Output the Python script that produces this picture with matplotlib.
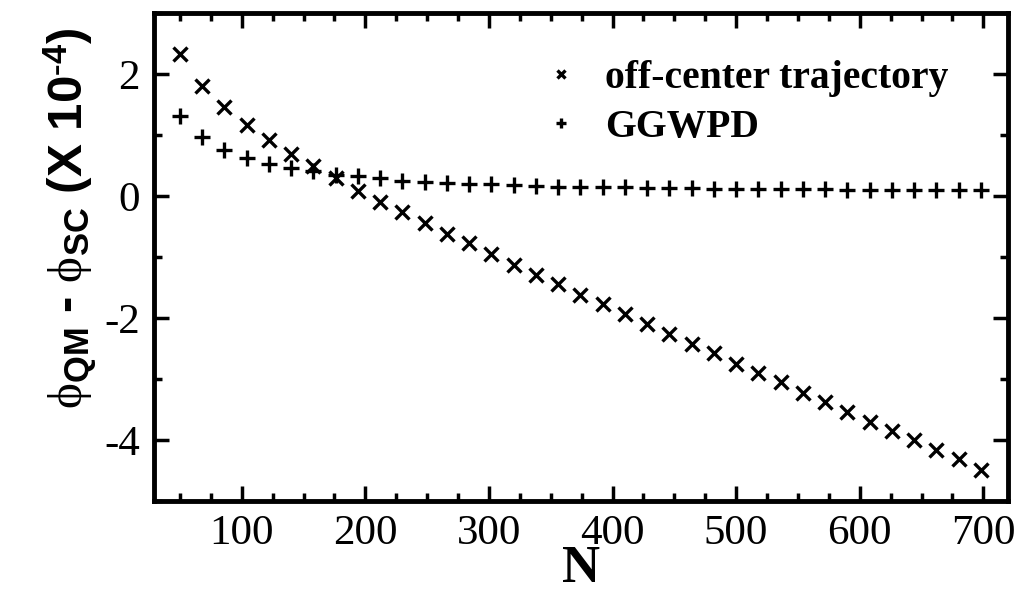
import matplotlib
matplotlib.use("Agg")
import matplotlib.pyplot as plt
import numpy as np

# system size N and phase differences (units of 1e-4)
N = [50, 68, 86, 104, 122, 140, 158, 176, 194, 212, 230, 248, 266, 284, 302,
     320, 338, 356, 374, 392, 410, 428, 446, 464, 482, 500, 518, 536, 554,
     572, 590, 608, 626, 644, 662, 680, 698]

off_center = [2.33, 1.81, 1.45, 1.16, 0.92, 0.69, 0.49, 0.30, 0.08, -0.10,
              -0.27, -0.44, -0.62, -0.78, -0.96, -1.13, -1.29, -1.45, -1.62,
              -1.78, -1.94, -2.10, -2.27, -2.43, -2.58, -2.75, -2.90, -3.06,
              -3.23, -3.38, -3.54, -3.70, -3.86, -4.01, -4.17, -4.32, -4.49]

ggwpd = [1.31, 0.96, 0.75, 0.62, 0.52, 0.45, 0.41, 0.34, 0.32, 0.29, 0.25,
         0.23, 0.21, 0.20, 0.19, 0.18, 0.16, 0.15, 0.15, 0.14, 0.14, 0.13,
         0.13, 0.13, 0.12, 0.12, 0.12, 0.11, 0.11, 0.11, 0.10, 0.10, 0.10,
         0.10, 0.09, 0.09, 0.09]

xticks = [100, 200, 300, 400, 500, 600, 700]
yticks = [-4, -2, 0, 2]

plt.rcParams['axes.unicode_minus'] = False
plt.rcParams['mathtext.fontset'] = 'custom'
plt.rcParams['mathtext.rm'] = 'Liberation Serif'
plt.rcParams['mathtext.it'] = 'Liberation Serif'
plt.rcParams['mathtext.bf'] = 'Liberation Sans:bold'

fig = plt.figure(figsize=(10.21, 6.03), dpi=100)
ax = fig.add_axes([0.1508, 0.1695, 0.8365, 0.809])

ax.plot(N, off_center, linestyle='none', marker='x', color='black',
        markersize=9.5, markeredgewidth=2.4, label='off-center trajectory')
ax.plot(N, ggwpd, linestyle='none', marker='+', color='black',
        markersize=12, markeredgewidth=2.4, label='GGWPD')

ax.set_xlim(29, 720)
ax.set_ylim(-5, 3)
ax.set_xticks(xticks)
ax.set_yticks(yticks)
ax.set_xticks(np.arange(50, 720, 25), minor=True)
ax.set_yticks([-5, -3, -1, 1, 3], minor=True)

for s in ax.spines.values():
    s.set_linewidth(3.5)
ax.tick_params(which='both', direction='in', top=True, right=True, width=2.5)
ax.tick_params(which='major', length=11, pad=10)
ax.tick_params(which='minor', length=6)
for lab in ax.get_xticklabels() + ax.get_yticklabels():
    lab.set_family('Liberation Serif')
    lab.set_fontsize(31)

ax.set_xlabel('N', family='Liberation Serif', fontweight='bold', fontsize=38,
              labelpad=-6)
ax.set_ylabel(r'$\mathrm{\phi}_{\mathbf{QM}}$ - $\mathrm{\phi}_{\mathbf{SC}}$ (X 10$^{\mathbf{\text{-}4}}$)',
              family='Liberation Sans', fontweight='bold', fontsize=35.5)
ax.yaxis.set_label_coords(-0.063, 0.58)

ax.legend(loc='upper left', bbox_to_anchor=(0.453, 0.904), frameon=False,
          markerscale=0.65, handlelength=1.0, handletextpad=0.62,
          borderpad=0, borderaxespad=0, labelspacing=0.3,
          prop={'family': 'Liberation Serif', 'weight': 'bold', 'size': 28.5})

fig.savefig('out.png', dpi=100)
